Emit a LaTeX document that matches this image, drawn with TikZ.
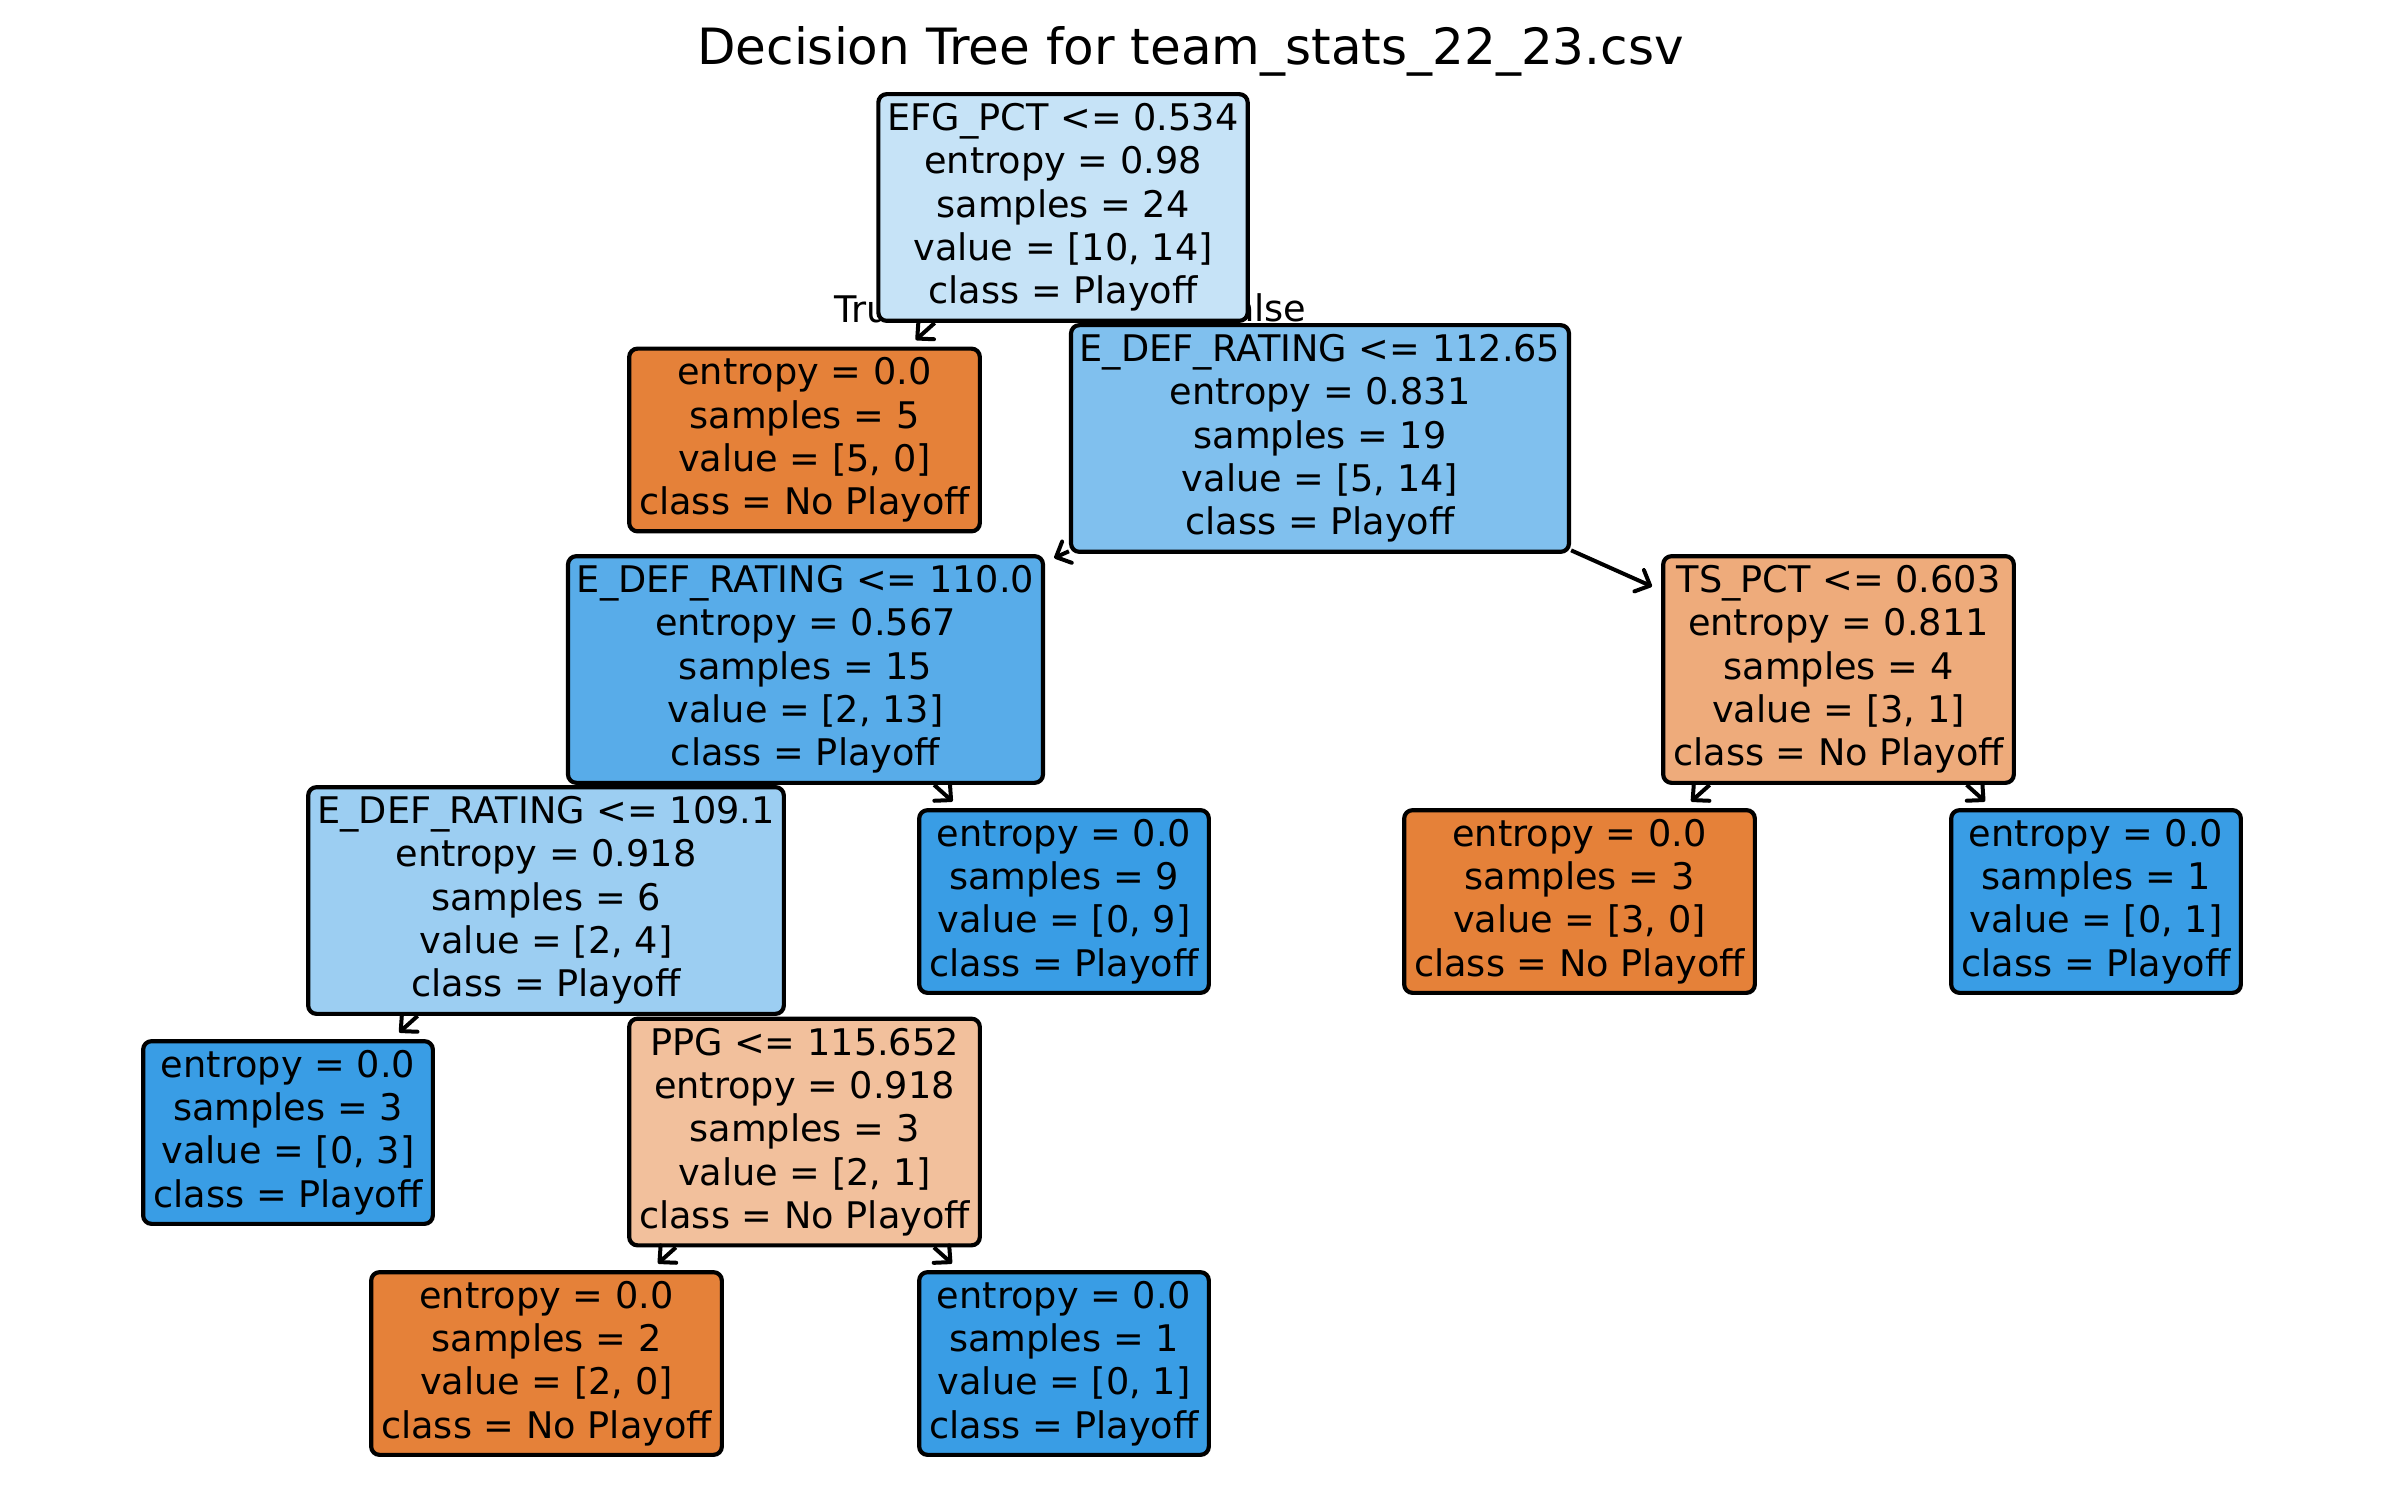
\documentclass[tikz,border=0pt]{standalone}
\usepackage{fontspec}
\setmainfont{DejaVu Sans}
\usetikzlibrary{arrows.meta}
\definecolor{cOrange}{RGB}{229,129,57}
\definecolor{cBlue}{RGB}{57,157,229}
\definecolor{cRoot}{RGB}{198,227,247}
\definecolor{cNA}{RGB}{128,192,238}
\definecolor{cNB}{RGB}{88,172,233}
\definecolor{cNC}{RGB}{156,206,242}
\definecolor{cTS}{RGB}{238,171,123}
\definecolor{cPPG}{RGB}{242,192,156}
\begin{document}
\begin{tikzpicture}[x=0.3pt,y=-0.3pt,
  tnode/.style={draw=black, line width=1.25pt, rounded corners=2.5pt, align=center,
    font=\fontsize{11}{13}\selectfont, inner sep=1pt},
  fivel/.style={tnode, minimum height=68pt},
  fourl/.style={tnode, minimum height=54.8pt},
  lbl/.style={font=\fontsize{11}{13}\selectfont, inner sep=0pt},
  tedge/.style={draw=black, line width=1.2pt, -{Straight Barb[length=3.6pt,width=7pt,round]}, shorten >=3pt}
]
\useasboundingbox (0,0) rectangle (2385,1509);
\fill[white] (0,0) rectangle (2385,1509);

\node[font=\fontsize{15}{18}\selectfont, anchor=base, inner sep=0pt] (title) at (1190.5,65) {Decision Tree for team\_stats\_22\_23.csv};

\node[lbl, anchor=base west] (tlab) at (834,323) {True};
\node[lbl, anchor=base east] (flab) at (1307,322) {False};

\node[fivel, fill=cRoot, minimum width=110.8pt] (root) at (1063,207.5)
  {EFG\_PCT <= 0.534\\entropy = 0.98\\samples = 24\\value = [10, 14]\\class = Playoff};
\node[fourl, fill=cOrange, minimum width=105.2pt] (l5) at (804.5,440)
  {entropy = 0.0\\samples = 5\\value = [5, 0]\\class = No Playoff};
\node[fivel, fill=cNA, minimum width=149.4pt] (n112) at (1320,438.5)
  {E\_DEF\_RATING <= 112.65\\entropy = 0.831\\samples = 19\\value = [5, 14]\\class = Playoff};
\node[fivel, fill=cNB, minimum width=142.5pt] (n110) at (805.5,669.5)
  {E\_DEF\_RATING <= 110.0\\entropy = 0.567\\samples = 15\\value = [2, 13]\\class = Playoff};
\node[fivel, fill=cTS, minimum width=105.2pt] (ts) at (1838.5,669.5)
  {TS\_PCT <= 0.603\\entropy = 0.811\\samples = 4\\value = [3, 1]\\class = No Playoff};
\node[fivel, fill=cNC, minimum width=142.7pt] (n109) at (546,900.5)
  {E\_DEF\_RATING <= 109.1\\entropy = 0.918\\samples = 6\\value = [2, 4]\\class = Playoff};
\node[fourl, fill=cBlue, minimum width=86.9pt] (l9) at (1064,901.5)
  {entropy = 0.0\\samples = 9\\value = [0, 9]\\class = Playoff};
\node[fourl, fill=cOrange, minimum width=105.2pt] (l30) at (1579.5,901.5)
  {entropy = 0.0\\samples = 3\\value = [3, 0]\\class = No Playoff};
\node[fourl, fill=cBlue, minimum width=86.9pt] (l01r) at (2096,901.5)
  {entropy = 0.0\\samples = 1\\value = [0, 1]\\class = Playoff};
\node[fourl, fill=cBlue, minimum width=86.9pt] (l03) at (288,1132.5)
  {entropy = 0.0\\samples = 3\\value = [0, 3]\\class = Playoff};
\node[fivel, fill=cPPG, minimum width=105.2pt] (ppg) at (804.5,1132)
  {PPG <= 115.652\\entropy = 0.918\\samples = 3\\value = [2, 1]\\class = No Playoff};
\node[fourl, fill=cOrange, minimum width=105.2pt] (l20) at (546.5,1363.5)
  {entropy = 0.0\\samples = 2\\value = [2, 0]\\class = No Playoff};
\node[fourl, fill=cBlue, minimum width=86.9pt] (l01b) at (1064,1363.5)
  {entropy = 0.0\\samples = 1\\value = [0, 1]\\class = Playoff};

\draw[tedge] (root) -- (l5);
\draw[tedge] (n112) -- (n110);
\draw[tedge] (n112) -- (ts);
\draw[tedge] (n110) -- (l9);
\draw[tedge] (n109) -- (l03);
\draw[tedge] (ppg) -- (l20);
\draw[tedge] (ppg) -- (l01b);
\draw[tedge] (ts) -- (l30);
\draw[tedge] (ts) -- (l01r);
\end{tikzpicture}
\end{document}
